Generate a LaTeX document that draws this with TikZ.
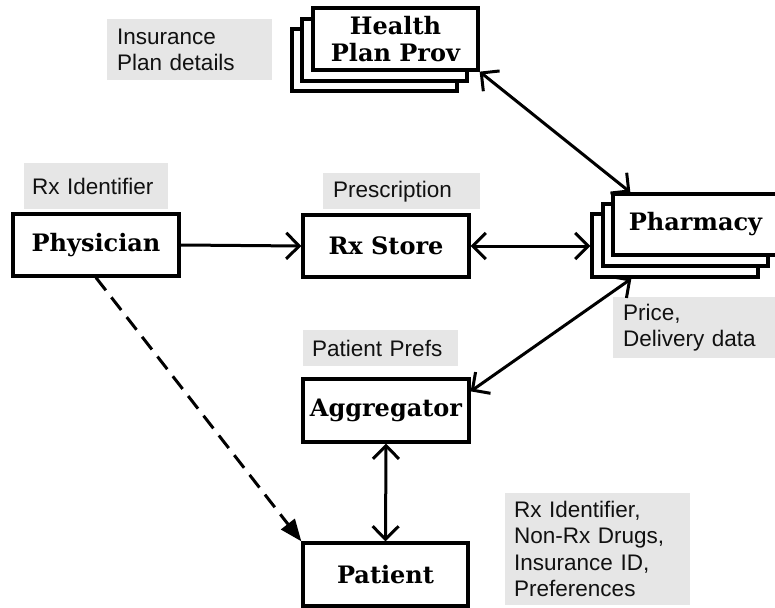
\documentclass[tikz,border=0pt]{standalone}
\usepackage{fontspec}
\setmainfont{Liberation Sans}
\newfontfamily\boxfont{DejaVu Serif}
\usetikzlibrary{arrows.meta,calc}
\definecolor{notegray}{HTML}{E6E6E6}
\definecolor{notetext}{HTML}{111111}
\tikzset{
  entity/.style={draw, line width=3.3pt, fill=white, rectangle,
    minimum width=166pt, minimum height=62pt, inner sep=0pt,
    align=center, font=\boxfont\bfseries\fontsize{24}{27}\selectfont},
  stackbox/.style={draw, line width=3.3pt, fill=white},
  note/.style={fill=notegray, anchor=north west, inner ysep=0pt,
    align=left, text=notetext, font=\fontsize{22.5}{26.5}\selectfont},
  flow/.style={line width=3pt, {Straight Barb[length=13pt,width=26pt,line width=3pt]}-{Straight Barb[length=13pt,width=26pt,line width=3pt]}},
  oneway/.style={line width=3pt, -{Straight Barb[length=13pt,width=26pt,line width=3pt]}},
  suggest/.style={line width=3pt, dash pattern=on 16pt off 9pt, -{Triangle[length=22pt,width=17pt]}}
}
\begin{document}
\begin{tikzpicture}[x=1pt,y=-1pt]
\useasboundingbox (0,0) rectangle (775,607);

% annotation boxes
\node[note, minimum width=165pt, minimum height=61pt, text width=145pt, inner xsep=10pt] (nIns) at (107,19) {Insurance\\Plan details};
\node[note, minimum width=144pt, minimum height=46pt, text width=128pt, inner xsep=8pt] (nRxId) at (24,163) {Rx Identifier};
\node[note, minimum width=157pt, minimum height=36pt, text width=137pt, inner xsep=10pt] (nPres) at (323,173) {Prescription};
\node[note, minimum width=155pt, minimum height=36pt, text width=137pt, inner xsep=9pt] (nPref) at (303,330) {Patient Prefs};
\node[note, minimum width=165pt, minimum height=61pt, text width=145pt, inner xsep=10pt] (nPrice) at (613,297) {Price,\\Delivery data};
\node[note, minimum width=185pt, minimum height=112pt, text width=167pt, inner xsep=9pt] (nPat) at (505,493) {Rx Identifier,\\Non-Rx Drugs,\\Insurance ID,\\Preferences};

% stacked health plan providers
\draw[stackbox] (292,29) rectangle (457,91);
\draw[stackbox] (302,19) rectangle (467,81);
\node[entity, minimum width=165pt] (hp) at (395.5,39) {Health\\Plan Prov};

% stacked pharmacies
\node[stackbox, rectangle, minimum width=166pt, minimum height=63pt, inner sep=0pt] (phB) at (675,245.5) {};
\draw[stackbox] (603,204) rectangle (768,266);
\node[entity, minimum width=165pt, minimum height=61pt] (ph) at (695.5,224.5) {Pharmacy};

% single entities
\node[entity] (phys) at (96,245) {Physician};
\node[entity] (rx) at (386,246) {Rx Store};
\node[entity, minimum height=63pt] (agg) at (386,410.5) {Aggregator};
\node[entity, minimum width=165pt, minimum height=63pt] (pat) at (385.5,574.5) {Patient};

% connectors
\draw[oneway] (phys.east) -- (rx.west);
\draw[flow] (rx.east) -- (rx.east -| phB.west);
\draw[flow] (hp.south east) -- ($(ph.north west)+(19,0)$);
\draw[flow] ($(agg.north east)+(0,14)$) -- ($(phB.south west)+(41,0)$);
\draw[flow] (agg.south) -- (pat.north);
\draw[suggest] (phys.south) -- (pat.north west);
\end{tikzpicture}
\end{document}
